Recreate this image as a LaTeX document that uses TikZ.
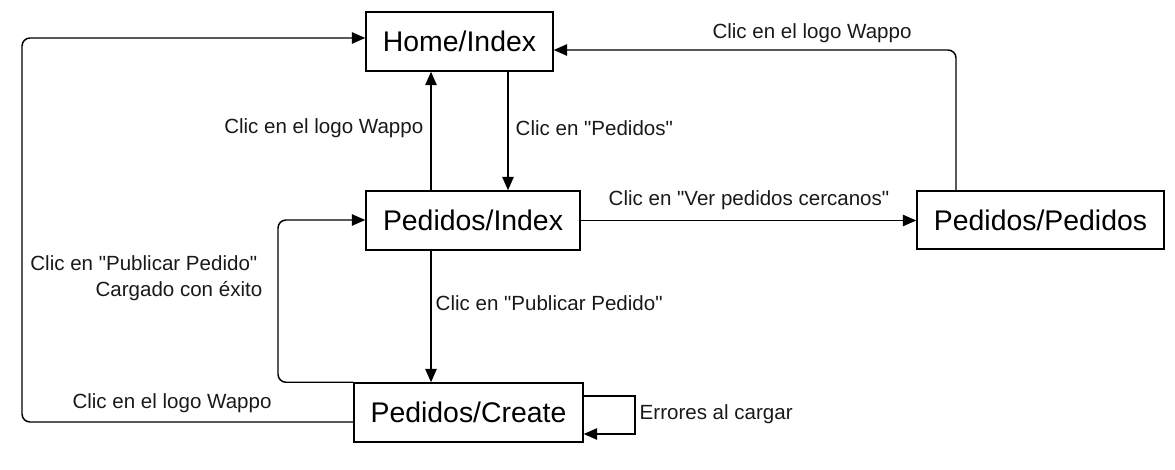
\documentclass[tikz,border=0pt]{standalone}
\usepackage{fontspec}
\setmainfont{Liberation Sans}[Ligatures=TeXOff]
\usetikzlibrary{arrows.meta}

\tikzset{every picture/.style={line width=1.1pt}}
\tikzset{
  box/.style={draw, inner sep=0pt, font=\fontsize{21.3}{25}\selectfont},
  lbl/.style={inner sep=0.75pt, text=black!90, font=\fontsize{15.4}{18}\selectfont},
  arr/.style={-{Triangle[length=10pt,width=8.5pt]}},
}

\begin{document}
\begin{tikzpicture}[x=0.75pt,y=0.75pt,yscale=-1,xscale=1]
		\useasboundingbox (0,0) rectangle (1175,470); %keep the page size of the reference
		
		%States
		\node [box, minimum width=140.25pt, minimum height=44.25pt] (home) at (459.5,41.5) {Home/Index};
		\node [box, minimum width=160.5pt, minimum height=44.25pt] (index) at (473,220.5) {Pedidos/Index};
		\node [box, minimum width=171.75pt, minimum height=44.25pt] (create) at (468.5,412.5) {Pedidos/Create};
		\node [box, minimum width=185.25pt, minimum height=43.5pt] (pedidos) at (1040.5,220) {Pedidos/Pedidos};
		
		%bend points
		\coordinate (upx) at (431,0);
		\coordinate (downx) at (508,0);
		\coordinate (rline) at (956,50);
		\coordinate (lline) at (22,38);
		\coordinate (lbot) at (0,422);
		\coordinate (loopx) at (278,220);
		\coordinate (eloop) at (635,396);
		\coordinate (eloopb) at (635,434);
		
		%Transitions
		\draw [arr]    (index.north -| upx) -- (home.south -| upx) ;
		\draw [arr]    (home.south -| downx) -- (index.north -| downx) ;
		\draw [arr]    (index.south -| upx) -- (create.north -| upx) ;
		\draw [arr]    (index.east) -- (pedidos.west |- index.east) ;
		\draw [arr, rounded corners=6]    (pedidos.north -| rline) |- (home.east |- rline) ;
		\draw [arr, rounded corners=6]    (create.west |- lbot) -| (lline) -- (home.west |- lline) ;
		\draw [arr, rounded corners=6]    (create.north west) -| (loopx) -- (index.west |- loopx) ;
		\draw [arr]    (create.east |- eloop) -- (eloop) -- (eloopb) -- (create.east |- eloopb) ;
		
		\draw (425,128) node [lbl, anchor=east]    {Clic en el logo Wappo};
		\draw (514,128) node [lbl, anchor=west]    {Clic en "Pedidos"};
		\draw (749,200) node [lbl]    {Clic en "Ver pedidos cercanos"};
		\draw (812,33) node [lbl]    {Clic en el logo Wappo};
		\draw (259,263) node [lbl, anchor=east]    {Clic en "Publicar Pedido"};
		\draw (264,291) node [lbl, anchor=east]    {Cargado con éxito};
		\draw (434,303) node [lbl, anchor=west]    {Clic en "Publicar Pedido"};
		\draw (172,403) node [lbl]    {Clic en el logo Wappo};
		\draw (638,414) node [lbl, anchor=west]    {Errores al cargar};
		
		
	\end{tikzpicture}
\end{document}
